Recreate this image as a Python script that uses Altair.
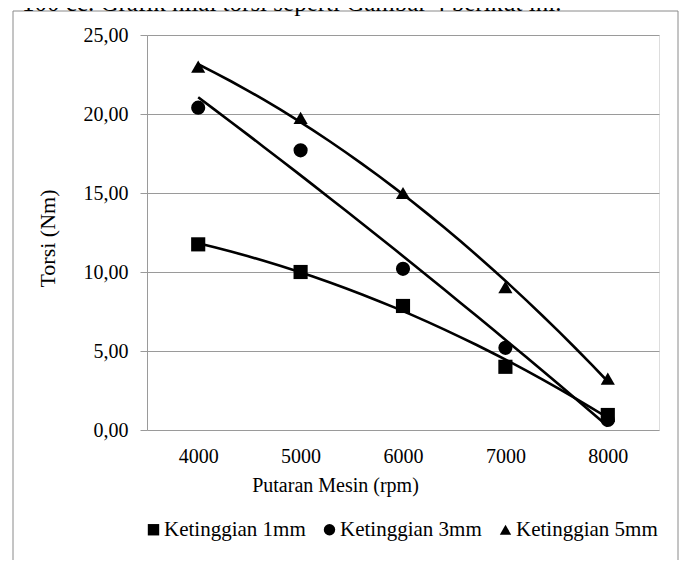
import altair as alt
import pandas as pd

rpm = [4000, 5000, 6000, 7000, 8000]
series_names = ["Ketinggian 1mm", "Ketinggian 3mm", "Ketinggian 5mm"]
torsi_1mm = [11.75, 10.0, 7.85, 4.0, 0.95]
torsi_3mm = [20.4, 17.7, 10.2, 5.2, 0.63]
torsi_5mm = [23.0, 19.75, 15.0, 9.05, 3.25]
y_ticks = [0, 5, 10, 15, 20, 25]
caption = "100 cc. Grafik nilai torsi seperti Gambar 4 berikut ini."

rows = []
for name, vals in zip(series_names, [torsi_1mm, torsi_3mm, torsi_5mm]):
    for r, v in zip(rpm, vals):
        rows.append({"rpm": r, "torsi": v, "series": name})
df = pd.DataFrame(rows)

FONT = "'Liberation Serif', 'Times New Roman', serif"
GRID = "#9a9a9a"

x_enc = alt.X("rpm:Q", scale=alt.Scale(domain=[3500, 8500], nice=False, zero=False),
              axis=alt.Axis(values=rpm, format="d", ticks=False, domain=False, grid=False,
                            labelFont=FONT, labelFontSize=20, labelColor="black",
                            labelPadding=16, title="Putaran Mesin (rpm)",
                            titleFont=FONT, titleFontSize=20, titleFontWeight="normal",
                            titleColor="black", titleX=188, titleY=55,
                            titleBaseline="middle", titleAlign="center"))
y_enc = alt.Y("torsi:Q", scale=alt.Scale(domain=[0, 25], nice=False),
              axis=alt.Axis(values=y_ticks,
                            labelExpr="replace(format(datum.value, '.2f'), '.', ',')",
                            labelFont=FONT, labelFontSize=20, labelColor="black",
                            labelPadding=12, tickSize=7, tickColor=GRID,
                            domainColor=GRID, gridColor=GRID, grid=True,
                            title="Torsi (Nm)", titleFont=FONT, titleFontSize=22,
                            titleFontWeight="normal", titleColor="black",
                            titleX=-100, titleY=203, titleBaseline="middle",
                            titleAlign="center", titleAngle=270))

base = alt.Chart(df)

lines = base.transform_regression(
    "rpm", "torsi", groupby=["series"], method="poly", order=2, extent=[4000, 8000]
).mark_line(color="black", strokeWidth=2.6).encode(
    x=x_enc, y=y_enc, detail="series:N"
)

points = base.mark_point(filled=True, color="black", opacity=1, size=200).encode(
    x=x_enc, y=y_enc,
    shape=alt.Shape("series:N",
                    scale=alt.Scale(domain=series_names,
                                    range=["square", "circle", "triangle-up"]),
                    legend=alt.Legend(orient="none", legendX=-4, legendY=484,
                                      direction="horizontal", title=None,
                                      labelFont=FONT, labelFontSize=21,
                                      labelColor="black", symbolFillColor="black",
                                      symbolStrokeColor="black", symbolSize=130,
                                      labelOffset=0, columnPadding=13,
                                      symbolOpacity=1)),
)

frame = alt.Chart(pd.DataFrame({"a": [0]})).mark_rect(
    fill=None, stroke="#8a8a8a", strokeWidth=1
).encode(x=alt.value(-134), x2=alt.value(531), y=alt.value(-24), y2=alt.value(700))

cap = alt.Chart(pd.DataFrame({"t": [caption]})).mark_text(
    font=FONT, fontSize=25, align="left", baseline="alphabetic", color="black"
).encode(text="t:N", x=alt.value(-125), y=alt.value(-24))

chart = alt.layer(frame, cap, lines, points).properties(
    width=512, height=395,
    autosize=alt.AutoSizeParams(type="none"),
    padding={"left": 139, "top": 27, "right": 20, "bottom": 130},
).configure_view(stroke=None).configure(background="white", font=FONT).configure_legend(
    labelFont=FONT, labelFontSize=21, labelColor="black"
).configure_axisY(titleFontSize=22, titleFont=FONT)

chart.save("out.html", embed_options={"renderer": "svg", "actions": False})
